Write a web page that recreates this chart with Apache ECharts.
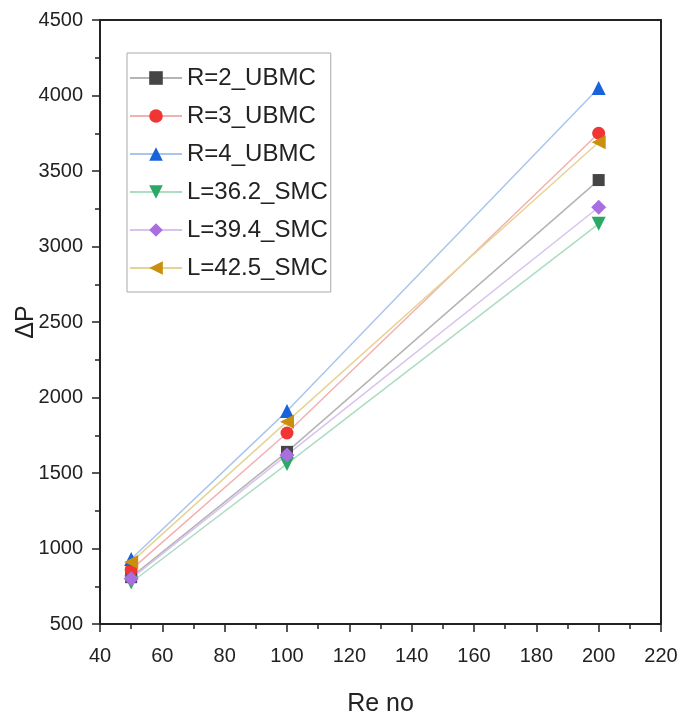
<!DOCTYPE html>
<html><head><meta charset="utf-8">
<script src="https://cdn.jsdelivr.net/npm/echarts@6/dist/echarts.min.js"></script>
<style>html,body{margin:0;padding:0;background:#fff}#c{width:695px;height:720px}</style>
</head><body><div id="c"></div>
<script>
const reNo = [50, 100, 200];
const seriesNames = ['R=2_UBMC','R=3_UBMC','R=4_UBMC','L=36.2_SMC','L=39.4_SMC','L=42.5_SMC'];
const r2 = [810, 1640, 3440];
const r3 = [860, 1765, 3750];
const r4 = [930, 1910, 4050];
const l362 = [775, 1560, 3150];
const l394 = [800, 1620, 3260];
const l425 = [910, 1840, 3690];
const values = [r2, r3, r4, l362, l394, l425];
const markerColors = ['#454545','#f03535','#1a62dc','#2aa864','#a96ee0','#c8900c'];
const lineColors = ['#b4b4b4','#f2b0b0','#a8c6ec','#acdcc2','#d8c2f0','#e6d494'];
const symbols = ['rect','circle','triangle','triangle','diamond','triangle'];
const rotates = [0,0,0,180,0,90];
const sizes = [12,13,14,14,15,14];

const chart = echarts.init(document.getElementById('c'));
const font = '"Liberation Sans", Arial, sans-serif';
chart.setOption({
  animation:false,
  backgroundColor:'#fff',
  grid:{left:100,right:34,top:20,bottom:96, outerBoundsMode:'none', containLabel:false},
  legend:{
    left:127, top:53, orient:'vertical',
    padding:[10,3,9,2],
    backgroundColor:'#fff', borderColor:'#aaa', borderWidth:1,
    itemWidth:52, itemHeight:17, itemGap:8,
    textStyle:{fontSize:24, fontFamily:font, color:'#222', lineHeight:30},
    data: seriesNames
  },
  xAxis:[{
    type:'value', min:40, max:220, interval:20,
    name:'Re no', nameLocation:'middle', nameGap:68, nameMoveOverlap:false,
    nameTextStyle:{fontSize:25, fontFamily:font, color:'#222'},
    axisLine:{lineStyle:{color:'#222', width:2}},
    axisTick:{show:true, inside:false, length:8, lineStyle:{color:'#222', width:1.5}},
    minorTick:{show:true, splitNumber:2, length:5, lineStyle:{color:'#222', width:1.5}},
    axisLabel:{fontSize:20, fontFamily:font, color:'#222', margin:22},
    splitLine:{show:false}
  },{
    type:'value', min:40, max:220, position:'top',
    axisLine:{show:true, lineStyle:{color:'#222', width:2}},
    axisTick:{show:false}, axisLabel:{show:false}, splitLine:{show:false}
  }],
  yAxis:[{
    type:'value', min:500, max:4500, interval:500,
    name:'\u0394P', nameLocation:'middle', nameGap:61, nameRotate:90, nameMoveOverlap:false,
    nameTextStyle:{fontSize:25, fontFamily:font, color:'#222'},
    axisLine:{show:true, lineStyle:{color:'#222', width:2}},
    axisTick:{show:true, inside:false, length:8, lineStyle:{color:'#222', width:1.5}},
    minorTick:{show:true, splitNumber:2, length:5, lineStyle:{color:'#222', width:1.5}},
    axisLabel:{fontSize:20, fontFamily:font, color:'#222', margin:17, formatter:v=>String(v)},
    splitLine:{show:false}
  },{
    type:'value', min:500, max:4500, position:'right',
    axisLine:{show:true, lineStyle:{color:'#222', width:2}},
    axisTick:{show:false}, axisLabel:{show:false}, splitLine:{show:false}
  }],
  series: seriesNames.map((n,i)=>({
    name:n, type:'line',
    data: reNo.map((x,j)=>[x, values[i][j]]),
    symbol:symbols[i], symbolRotate:rotates[i], symbolSize:sizes[i],
    showSymbol:true,
    itemStyle:{color:markerColors[i]},
    lineStyle:{color:lineColors[i], width:1.5}
  }))
});
</script></body></html>
